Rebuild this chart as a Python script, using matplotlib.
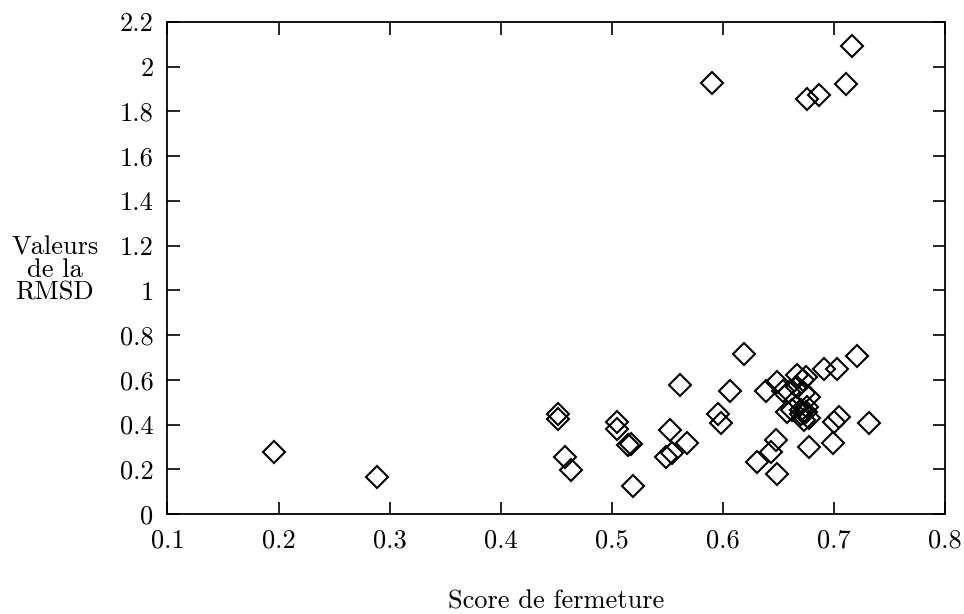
import matplotlib
matplotlib.use('Agg')
import matplotlib.pyplot as plt

# score de fermeture / valeurs de la RMSD
score = [0.196, 0.289,
         0.452, 0.452, 0.458, 0.463,
         0.505, 0.505, 0.515, 0.517, 0.519,
         0.552, 0.549, 0.554, 0.568, 0.561,
         0.596, 0.598, 0.606, 0.619,
         0.631, 0.643, 0.648, 0.649,
         0.639, 0.649, 0.654,
         0.667, 0.675, 0.672, 0.660, 0.667, 0.678, 0.673,
         0.658, 0.662, 0.670, 0.676, 0.673, 0.678, 0.670, 0.675,
         0.678, 0.691, 0.703, 0.721,
         0.700, 0.705, 0.699, 0.732,
         0.590, 0.716, 0.711, 0.676, 0.687]
rmsd = [0.279, 0.167,
        0.449, 0.423, 0.256, 0.198,
        0.412, 0.382, 0.310, 0.315, 0.125,
        0.375, 0.256, 0.271, 0.318, 0.576,
        0.449, 0.407, 0.551, 0.714,
        0.234, 0.278, 0.330, 0.179,
        0.549, 0.590, 0.550,
        0.621, 0.613, 0.598, 0.546, 0.569, 0.524, 0.539,
        0.457, 0.465, 0.464, 0.479, 0.420, 0.430, 0.445, 0.455,
        0.300, 0.650, 0.650, 0.705,
        0.412, 0.434, 0.318, 0.408,
        1.927, 2.091, 1.924, 1.855, 1.873]

xticks = [0.1, 0.2, 0.3, 0.4, 0.5, 0.6, 0.7, 0.8]
yticks = [0, 0.2, 0.4, 0.6, 0.8, 1, 1.2, 1.4, 1.6, 1.8, 2, 2.2]

plt.rcParams['font.family'] = ['cmr10', 'DejaVu Serif']
plt.rcParams['axes.formatter.use_mathtext'] = True

fig = plt.figure(figsize=(9.64, 6.14), dpi=100)
ax = fig.add_axes([0.1737, 0.1629, 0.8066, 0.8013])

ax.plot(score, rmsd, 'D', ms=11.5, mfc='none', mec='black', mew=1.5)

ax.set_xlim(0.1, 0.8)
ax.set_ylim(0, 2.2)
ax.set_xticks(xticks)
ax.set_yticks(yticks)
ax.set_xticklabels(['%g' % v for v in xticks])
ax.set_yticklabels(['%g' % v for v in yticks])
ax.tick_params(direction='in', length=9, width=1.2, top=True, right=True,
               labelsize=19)
ax.tick_params(axis='x', pad=11)
ax.tick_params(axis='y', pad=10)
for s in ax.spines.values():
    s.set_linewidth(1.3)

# titres des axes, places comme sur l'original
fig.text(0.5767, 0.009, 'Score de fermeture', fontsize=19, ha='center',
         va='baseline')
fig.text(0.0567, 0.560, 'Valeurs\nde la\nRMSD', fontsize=19, ha='center',
         va='center', linespacing=0.92)

plt.savefig('out.png', dpi=100)
